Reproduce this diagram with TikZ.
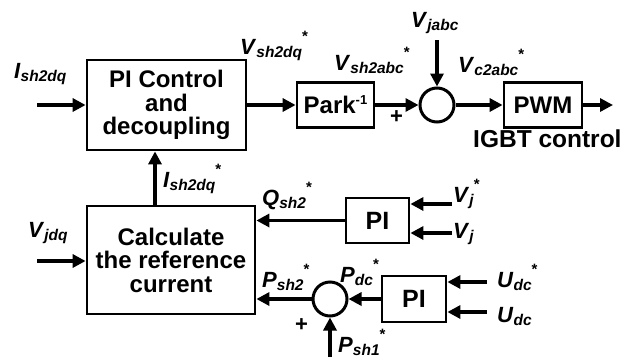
\documentclass[tikz,border=0pt]{standalone}
\usepackage{fontspec}
\setmainfont{Liberation Sans}
\usetikzlibrary{arrows.meta}
\newcommand{\sig}[3]{\textbf{\textit{#1}}\raisebox{-3pt}{\fontsize{15.5}{16}\selectfont\textbf{\textit{#2}}}#3}
\newcommand{\stx}{\raisebox{13pt}{\fontsize{15}{15}\selectfont\textbf{*}}}
\begin{document}
\begin{tikzpicture}[x=1pt,y=-1pt,
  blk/.style={draw,line width=2.8pt,inner sep=0pt,align=center,font=\fontsize{24}{23.5}\selectfont\bfseries},
  sumc/.style={draw,circle,line width=3pt,minimum size=34pt,inner sep=0pt},
  arr/.style={line width=3.2pt,-{Triangle[length=13pt,width=13pt]}},
  lab/.style={anchor=base west,inner sep=0pt,font=\fontsize{22}{22}\selectfont}]
\useasboundingbox (0,0) rectangle (628,359);
% blocks
\node[blk,minimum width=159pt,minimum height=90pt] (pic) at (166.5,105) {PI Control\\and\\decoupling};
\node[blk,minimum width=77pt,minimum height=45pt] (park) at (335.5,105) {Park\raisebox{9pt}{\fontsize{13}{13}\selectfont\textbf{-1}}};
\node[sumc] (s1) at (437,105) {};
\node[blk,minimum width=78pt,minimum height=45pt] (pwm) at (543,105) {PWM};
\node[blk,minimum width=168pt,minimum height=108pt] (calc) at (171,260) {Calculate\\the reference\\current};
\node[blk,minimum width=63pt,minimum height=45pt,font=\fontsize{25}{25}\selectfont\bfseries] (pi1) at (377.5,220.5) {PI};
\node[sumc] (s2) at (330,299) {};
\node[blk,minimum width=64pt,minimum height=46pt,font=\fontsize{25}{25}\selectfont\bfseries] (pi2) at (414,299) {PI};
% free ends
\coordinate (in1) at (37,105);
\coordinate (out) at (613,105);
\coordinate (vj) at (437,40);
\coordinate (cu) at (155,206);
\coordinate (vin) at (37,261);
\coordinate (vjs) at (452,204);
\coordinate (vjm) at (452,233);
\coordinate (uds) at (487,282);
\coordinate (udm) at (487,312);
\coordinate (ps1) at (330,357);
% connectors
\draw[arr] (in1) -- (in1 -| pic.west);
\draw[arr] (pic.east) -- (park.west);
\draw[arr] (park.east) -- (s1.west);
\draw[arr] (vj) -- (s1.north);
\draw[arr] (s1.east) -- (pwm.west);
\draw[arr] (pwm.east) -- (out);
\draw[arr] (cu) -- (cu |- pic.south);
\draw[arr] (vin) -- (vin -| calc.west);
\draw[arr] (pi1.west) -- (pi1.west -| calc.east);
\draw[arr] (s2.west) -- (s2.west -| calc.east);
\draw[arr] (pi2.west) -- (s2.east);
\draw[arr] (vjs) -- (vjs -| pi1.east);
\draw[arr] (vjm) -- (vjm -| pi1.east);
\draw[arr] (uds) -- (uds -| pi2.east);
\draw[arr] (udm) -- (udm -| pi2.east);
\draw[arr] (ps1) -- (s2.south);
% labels
\node[lab] (l1) at (14,78) {\sig{I}{sh2dq}{}};
\node[lab] (l2) at (240,54) {\sig{V}{sh2dq}{\stx}};
\node[lab] (l3) at (334,70) {\sig{V}{sh2abc}{\stx}};
\node[lab] (l4) at (411,27) {\sig{V}{jabc}{}};
\node[lab] (l5) at (458,72) {\sig{V}{c2abc}{\stx}};
\node[lab,font=\fontsize{24.5}{24.5}\selectfont\bfseries] (l6) at (473,147) {IGBT control};
\node[lab,font=\fontsize{22}{22}\selectfont\bfseries] (p1) at (390,123) {+};
\node[lab] (l7) at (163,187) {\sig{I}{sh2dq}{\stx}};
\node[lab] (l8) at (28,237) {\sig{V}{jdq}{}};
\node[lab] (l9) at (262,205) {\sig{Q}{sh2}{\stx}};
\node[lab] (l10) at (262,287) {\sig{P}{sh2}{\stx}};
\node[lab,font=\fontsize{22}{22}\selectfont\bfseries] (p2) at (295,331) {+};
\node[lab] (l11) at (453,202) {\sig{V}{j}{\stx}};
\node[lab] (l12) at (453,238) {\sig{V}{j}{}};
\node[lab] (l13) at (340,282) {\sig{P}{dc}{\stx}};
\node[lab] (l14) at (497,287) {\sig{U}{dc}{\stx}};
\node[lab] (l15) at (497,322) {\sig{U}{dc}{}};
\node[lab] (l16) at (338,352) {\sig{P}{sh1}{\stx}};
\end{tikzpicture}
\end{document}
